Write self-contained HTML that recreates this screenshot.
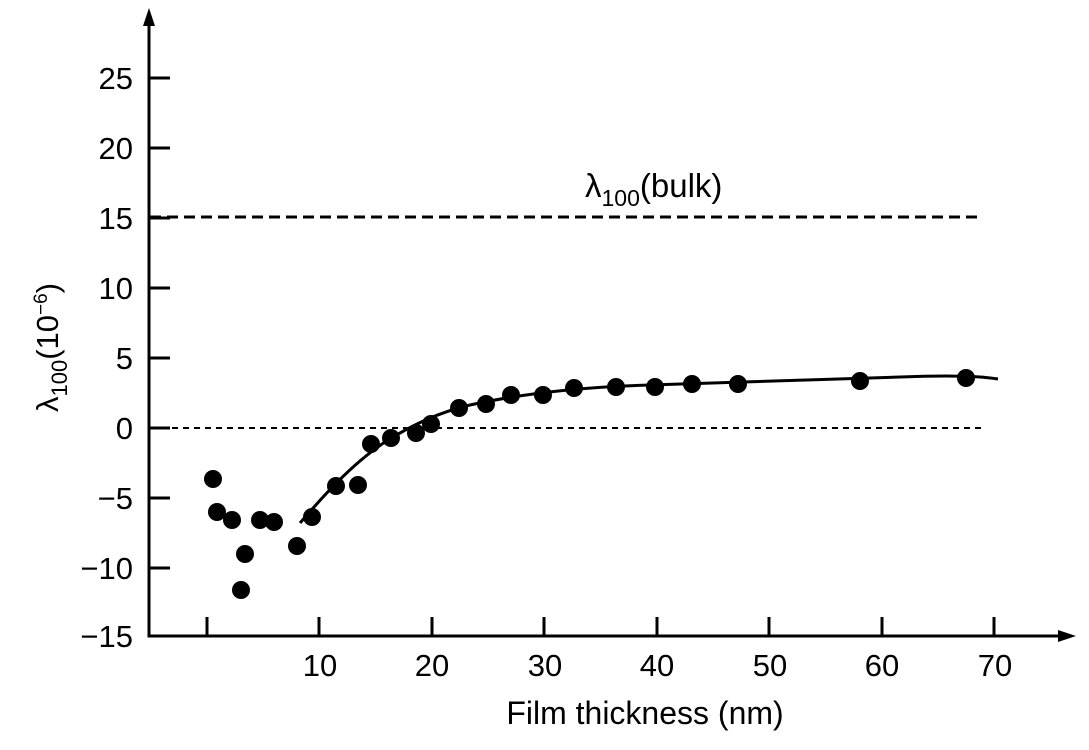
<!DOCTYPE html>
<html><head><style>body{margin:0;background:#fff}svg{display:block}text{font-family:"Liberation Sans",sans-serif;fill:#000}</style></head><body>
<svg width="1089" height="750" viewBox="0 0 1089 750">
<g stroke="#000" stroke-width="3" fill="none">
<line x1="149" y1="636" x2="149" y2="22"/>
<line x1="147.5" y1="636" x2="1062" y2="636"/>
<line x1="149" y1="78" x2="170" y2="78"/><line x1="149" y1="148" x2="170" y2="148"/><line x1="149" y1="218" x2="170" y2="218"/><line x1="149" y1="288" x2="170" y2="288"/><line x1="149" y1="358" x2="170" y2="358"/><line x1="149" y1="428" x2="170" y2="428"/><line x1="149" y1="498" x2="170" y2="498"/><line x1="149" y1="568" x2="170" y2="568"/>
<line x1="207" y1="636" x2="207" y2="617"/><line x1="319" y1="636" x2="319" y2="617"/><line x1="432" y1="636" x2="432" y2="617"/><line x1="544" y1="636" x2="544" y2="617"/><line x1="657" y1="636" x2="657" y2="617"/><line x1="769" y1="636" x2="769" y2="617"/><line x1="882" y1="636" x2="882" y2="617"/><line x1="994" y1="636" x2="994" y2="617"/>
<line x1="150" y1="217" x2="978" y2="217" stroke-dasharray="11,6"/>
<line x1="150" y1="428" x2="986" y2="428" stroke-width="2" stroke-dasharray="6,5"/>
<path d="M300,523 C320,500 350,465 385,442 C410,426 440,412 470,405 C520,394 580,387 650,385 C740,382 830,380 900,377 C950,375 980,376 998,379"/>
</g>
<polygon points="149,8 143,26 155,26" fill="#000"/>
<polygon points="1076,636 1058,630 1058,642" fill="#000"/>
<g fill="#000">
<circle cx="213" cy="479" r="9"/><circle cx="217" cy="512" r="9"/><circle cx="232" cy="520" r="9"/><circle cx="241" cy="590" r="9"/><circle cx="245" cy="554" r="9"/><circle cx="260" cy="520" r="9"/><circle cx="274" cy="522" r="9"/><circle cx="297" cy="546" r="9"/><circle cx="312" cy="517" r="9"/><circle cx="336" cy="486" r="9"/><circle cx="358" cy="485" r="9"/><circle cx="371" cy="444" r="9"/><circle cx="391" cy="438" r="9"/><circle cx="416" cy="433" r="9"/><circle cx="431" cy="424" r="9"/><circle cx="459" cy="408" r="9"/><circle cx="486" cy="404" r="9"/><circle cx="511" cy="395" r="9"/><circle cx="543" cy="395" r="9"/><circle cx="574" cy="388" r="9"/><circle cx="616" cy="387" r="9"/><circle cx="655" cy="387" r="9"/><circle cx="692" cy="384" r="9"/><circle cx="738" cy="384" r="9"/><circle cx="860" cy="381" r="9"/><circle cx="966" cy="378" r="9"/>
</g>
<g font-size="31" text-anchor="end">
<text x="133" y="89">25</text><text x="133" y="159">20</text><text x="133" y="229">15</text><text x="133" y="299">10</text><text x="133" y="369">5</text><text x="133" y="439">0</text><text x="133" y="509">−5</text><text x="133" y="579">−10</text><text x="133" y="647">−15</text>
</g>
<g font-size="31" text-anchor="middle">
<text x="320" y="676">10</text><text x="432" y="676">20</text><text x="545" y="676">30</text><text x="657" y="676">40</text><text x="770" y="676">50</text><text x="882" y="676">60</text><text x="995" y="676">70</text>
<text x="645" y="724" font-size="32">Film thickness (nm)</text>
</g>
<text x="585" y="197" font-size="33">λ<tspan font-size="23" dy="9">100</tspan><tspan dy="-9">(bulk)</tspan></text>
<text transform="translate(58,412) rotate(-90)" font-size="31">λ<tspan font-size="22" dy="9">100</tspan><tspan dy="-9">(10</tspan><tspan font-size="19" dy="-11">−6</tspan><tspan dy="11">)</tspan></text>
</svg>
</body></html>
